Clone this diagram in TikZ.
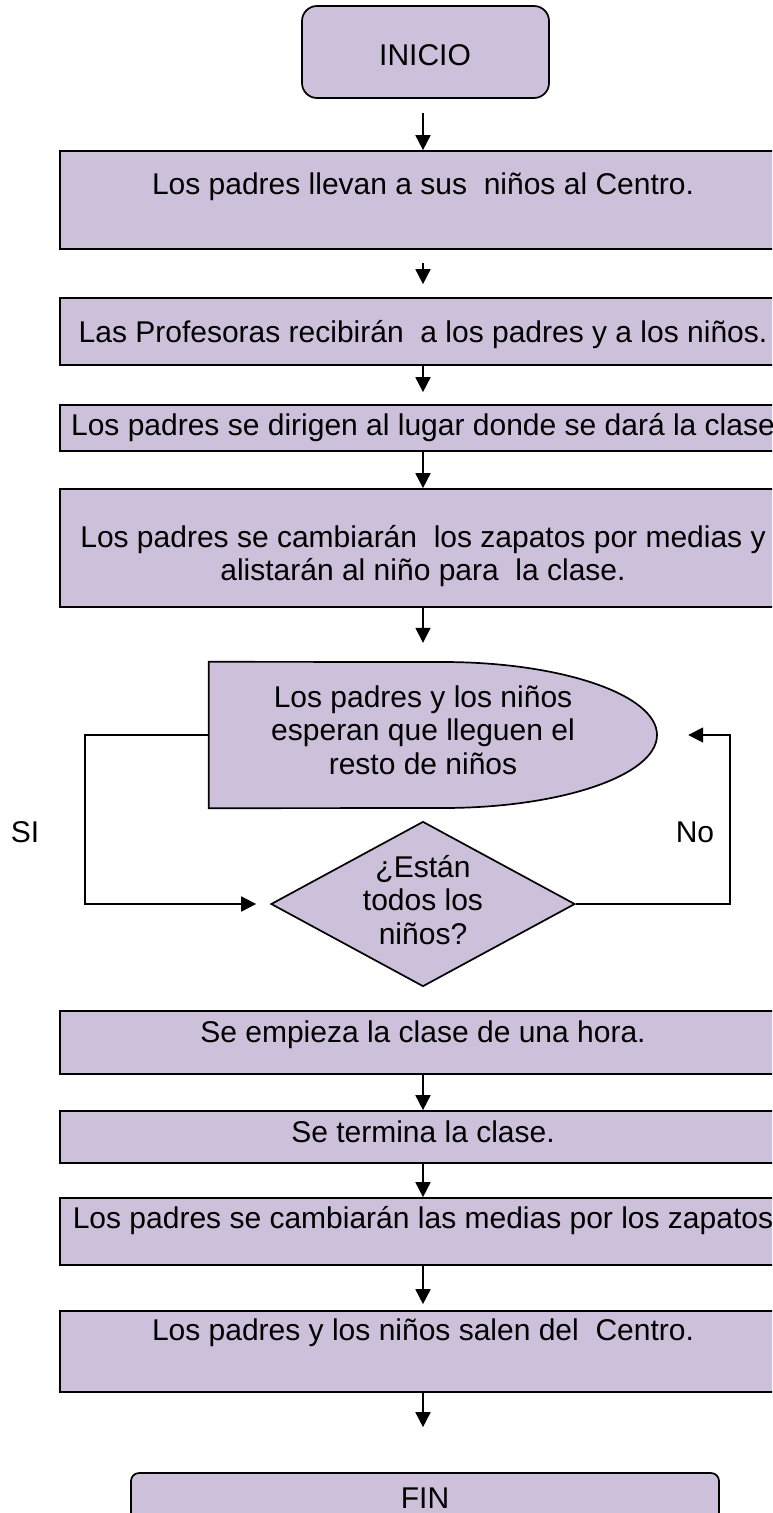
\documentclass[tikz,border=0pt]{standalone}
\usepackage{fontspec}
\setmainfont{Liberation Sans}
\usetikzlibrary{arrows.meta,shapes.geometric}
\definecolor{lav}{RGB}{204,192,218}
\newcommand\lstr{\vrule height 26.3pt depth 4.8pt width 0pt}
\begin{document}
\begin{tikzpicture}[x=1pt,y=1pt,
  box/.style={draw=black, fill=lav, line width=1.7pt, rectangle, inner sep=0pt, minimum width=726pt},
  term/.style={draw=black, fill=lav, line width=1.7pt, rectangle, rounded corners=15pt, inner sep=0pt},
  dia/.style={draw=black, fill=lav, line width=1.7pt, diamond, inner sep=0pt, minimum width=304pt, minimum height=165pt},
  waitshape/.style={draw=black, fill=lav, line width=1.7pt},
  txt/.style={font=\fontsize{30}{33.5}\selectfont, align=center, inner sep=0pt},
  arr/.style={line width=1.7pt, -{Triangle[length=15pt,width=15pt]}}]
\useasboundingbox (0,0) rectangle (772,-1513);
\clip (0,0) rectangle (772,-1513);

% start
\node[term, minimum width=247pt, minimum height=92pt] (ini) at (425.5,-52) {};
\node[txt] (tini) at (425,-54.5) {\lstr INICIO};

% steps
\node[box, minimum height=98pt] (b1) at (423,-200) {};
\node[txt] (t1) at (423,-184) {\lstr Los padres llevan a sus\ \ niños al Centro.};
\node[box, minimum height=67pt] (b2) at (423,-331.5) {};
\node[txt] (t2) at (423,-332) {\lstr Las Profesoras recibirán\ \ a los padres y a los niños.};
\node[box, minimum height=46pt] (b3) at (423,-428) {};
\node[txt] (t3) at (423,-425) {\lstr Los padres se dirigen al lugar donde se dará la clase};
\node[box, minimum height=118pt] (b4) at (423,-548) {};
\node[txt] (t4) at (423,-554) {\lstr Los padres se cambiarán\ \ los zapatos por medias y\\\lstr alistarán al niño para\ \ la clase.};

% wait shape
\node[inner sep=0pt, minimum width=448pt, minimum height=146pt] (w) at (433,-735) {};
\draw[waitshape] (w.north west) -- (443,-662) arc[start angle=90, end angle=-90, x radius=214, y radius=73] -- (w.south west) -- cycle;
\node[txt] (tw) at (423,-730) {\lstr Los padres y los niños\\\lstr esperan que lleguen el\\\lstr resto de niños};

% decision
\node[dia] (q) at (423,-904) {};
\node[txt] (tq) at (423,-900) {\lstr ¿Están\\\lstr todos los\\\lstr niños?};
\node[txt] (si) at (25,-832) {\lstr SI};
\node[txt] (no) at (695,-832) {\lstr No};

\node[box, minimum height=63pt] (b5) at (423,-1042.5) {};
\node[txt] (t5) at (423,-1032) {\lstr Se empieza la clase de una hora.};
\node[box, minimum height=52pt] (b6) at (423,-1137) {};
\node[txt] (t6) at (423,-1132) {\lstr Se termina la clase.};
\node[box, minimum height=67pt] (b7) at (423,-1231.5) {};
\node[txt] (t7) at (423,-1218) {\lstr Los padres se cambiarán las medias por los zapatos};
\node[box, minimum height=81pt] (b8) at (423,-1351.5) {};
\node[txt] (t8) at (423,-1330) {\lstr Los padres y los niños salen del\ \ Centro.};

% end
\node[term, rounded corners=8pt, minimum width=588pt, minimum height=49pt] (fin) at (425,-1497.5) {};
\node[txt] (tfin) at (425,-1497.5) {\lstr FIN};

% connectors
\coordinate (lp) at (85,-820);
\coordinate (rp) at (730,-820);
\draw[arr, shorten <=14pt] (ini.south -| b1.north) -- (b1.north);
\draw[arr, shorten <=13pt, shorten >=13pt] (b1.south) -- (b2.north);
\draw[arr, shorten >=12pt] (b2.south) -- (b3.north);
\draw[arr] (b3.south) -- (b4.north);
\draw[arr, shorten >=19pt] (b4.south) -- (b4.south |- w.north);
\draw[arr, shorten >=14pt] (w.west) -| (lp) |- (q.west);
\draw[arr, shorten >=31pt] (q.east) -| (rp) |- (w.east);
\draw[arr] (b5.south) -- (b6.north);
\draw[arr] (b6.south) -- (b7.north);
\draw[arr, shorten >=6pt] (b7.south) -- (b8.north);
\draw[arr, shorten >=45pt] (b8.south) -- (b8.south |- fin.north);
\end{tikzpicture}
\end{document}
